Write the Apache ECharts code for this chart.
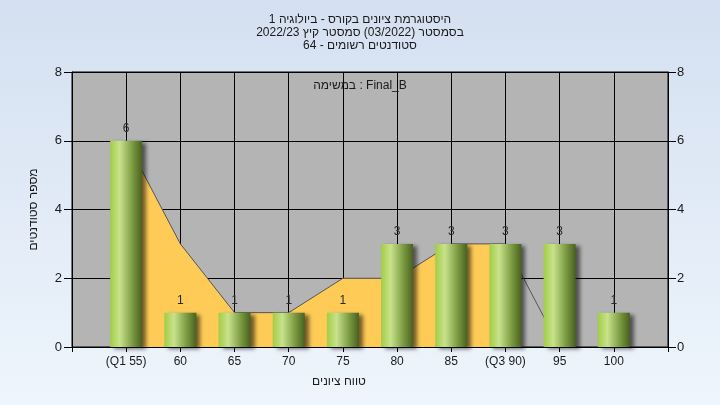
<!DOCTYPE html>
<html>
<head>
<meta charset="utf-8">
<script src="https://cdn.jsdelivr.net/npm/echarts@6/dist/echarts.min.js"></script>
<style>
html,body{margin:0;padding:0;}
#c{width:720px;height:405px;}
</style>
</head>
<body>
<div id="c"></div>
<script>
// ---- data ----
var titleLines = ['היסטוגרמת ציונים בקורס - ביולוגיה 1', 'בסמסטר (03/2022) סמסטר קיץ 2022/23', 'סטודנטים רשומים - 64'];
var legendText = 'במשימה : Final_B';
var xAxisTitle = 'טווח ציונים';
var yAxisTitle = 'מספר סטודנטים';
var scores = [55, 60, 65, 70, 75, 80, 85, 90, 95, 100];
var tickLabels = ['(Q1 55)', '60', '65', '70', '75', '80', '85', '(Q3 90)', '95', '100'];
var counts = [6, 1, 1, 1, 1, 3, 3, 3, 3, 1];
var areaValues = [6, 3, 1, 1, 2, 2, 3, 3];   // filled curve, 55..90
var tailValues = [3, 0];                      // thin line, 90..95

var FONT = '"Liberation Sans", "DejaVu Sans", Arial, sans-serif';

var barData = scores.map(function (s, i) { return [s, counts[i]]; });
var areaData = areaValues.map(function (v, i) { return [scores[i], v]; });
var tailData = tailValues.map(function (v, i) { return [scores[7 + i], v]; });
var labelMap = {};
scores.forEach(function (s, i) { labelMap[s] = tickLabels[i]; });

var chart = echarts.init(document.getElementById('c'), null, { renderer: 'canvas' });
chart.setOption({
  animation: false,
  backgroundColor: {
    type: 'linear', x: 0, y: 0, x2: 0, y2: 1,
    colorStops: [{ offset: 0, color: '#d4e0f1' }, { offset: 1, color: '#eef5fc' }]
  },
  textStyle: { fontFamily: FONT },
  title: {
    text: titleLines.join('\n'),
    left: 'center', top: 8,
    textStyle: { fontSize: 12, fontWeight: 'normal', color: '#1a1a1a', lineHeight: 13, fontFamily: FONT }
  },
  graphic: [{
    type: 'text', left: 'center', top: 80, z: 100,
    style: { text: legendText, fontSize: 12, fill: '#1a1a1a', fontFamily: FONT }
  }],
  grid: {
    left: 72, right: 52, top: 72, bottom: 58,
    show: true, backgroundColor: '#b4b4b4', borderColor: '#000', borderWidth: 1
  },
  xAxis: {
    type: 'value', min: 50, max: 105, interval: 5,
    name: xAxisTitle, nameLocation: 'middle', nameGap: 29,
    nameTextStyle: { fontSize: 12, color: '#1a1a1a', padding: [0, 62, 0, 0] },
    axisLine: { show: true, lineStyle: { color: '#000' } },
    axisTick: { show: true, length: 5, lineStyle: { color: '#000' } },
    axisLabel: {
      color: '#1a1a1a', fontSize: 12, margin: 9,
      formatter: function (v) { return labelMap[v] || ''; }
    },
    splitLine: { show: true, lineStyle: { color: '#000', width: 1 } }
  },
  yAxis: [{
    type: 'value', min: 0, max: 8, interval: 2, position: 'left',
    name: yAxisTitle, nameLocation: 'middle', nameGap: 32,
    nameTextStyle: { fontSize: 12, color: '#1a1a1a' },
    axisLine: { show: true, lineStyle: { color: '#000' } },
    axisTick: { show: true, length: 8, lineStyle: { color: '#000' } },
    axisLabel: { color: '#1a1a1a', fontSize: 13, margin: 10 },
    splitLine: { show: true, lineStyle: { color: '#000', width: 1 } }
  }, {
    type: 'value', min: 0, max: 8, interval: 2, position: 'right',
    axisLine: { show: true, lineStyle: { color: '#000' } },
    axisTick: { show: true, length: 8, lineStyle: { color: '#000' } },
    axisLabel: { color: '#1a1a1a', fontSize: 13, margin: 9 },
    splitLine: { show: false }
  }],
  series: [{
    type: 'line', data: areaData, symbol: 'none', z: 1,
    lineStyle: { color: '#555', width: 1 },
    areaStyle: { color: '#fecb57', opacity: 1 }
  }, {
    type: 'line', data: tailData, symbol: 'none', z: 1,
    lineStyle: { color: '#555', width: 1 }
  }, {
    type: 'bar', data: barData, barWidth: 32, z: 3,
    itemStyle: {
      color: {
        type: 'linear', x: 0, y: 0, x2: 1, y2: 0,
        colorStops: [
          { offset: 0, color: '#a2cd45' },
          { offset: 0.3, color: '#c8e28c' },
          { offset: 0.7, color: '#7a9a40' },
          { offset: 1, color: '#4a6020' }
        ]
      },
      shadowColor: 'rgba(0,0,0,0.55)', shadowBlur: 4, shadowOffsetX: 4, shadowOffsetY: 2
    },
    label: { show: true, position: 'top', distance: 6, color: '#2a2a2a', fontSize: 12, fontFamily: FONT }
  }]
});
</script>
</body>
</html>
